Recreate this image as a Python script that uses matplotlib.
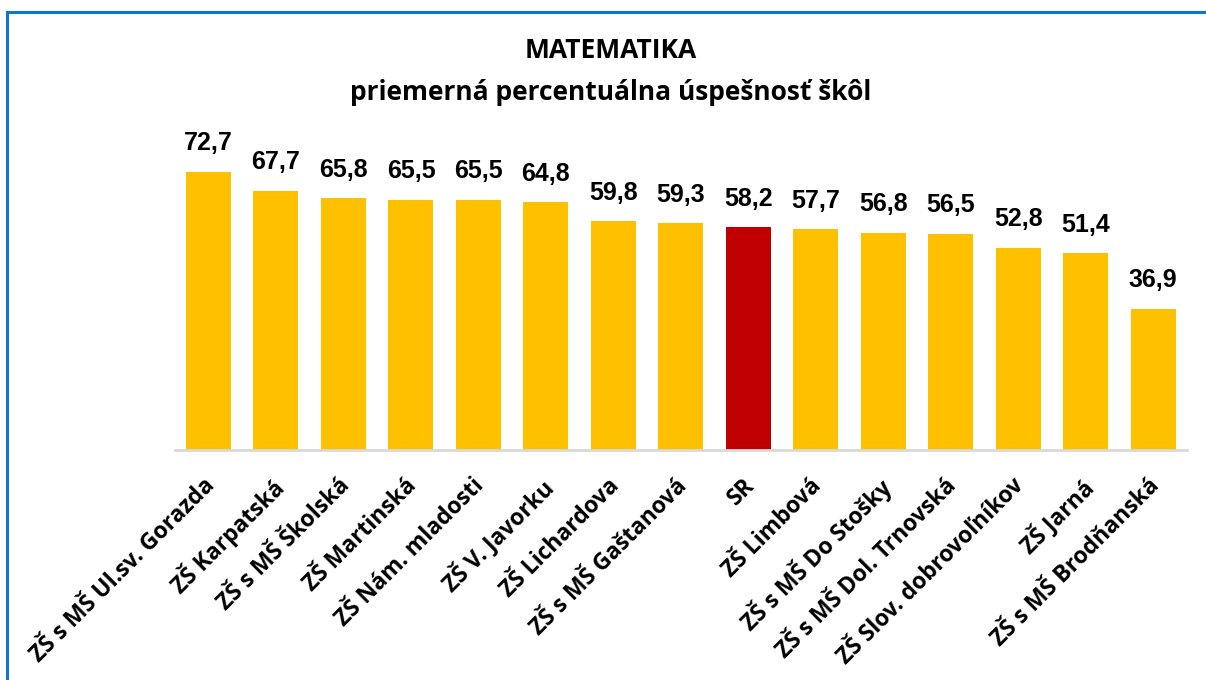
import matplotlib
matplotlib.use("Agg")
import matplotlib.pyplot as plt
from matplotlib.patches import Rectangle
import matplotlib.transforms as mtransforms

categories = ["ZŠ s MŠ Ul.sv. Gorazda", "ZŠ Karpatská", "ZŠ s MŠ Školská", "ZŠ Martinská",
              "ZŠ Nám. mladosti", "ZŠ V. Javorku", "ZŠ Lichardova", "ZŠ s MŠ Gaštanová",
              "SR", "ZŠ Limbová", "ZŠ s MŠ Do Stošky", "ZŠ s MŠ Dol. Trnovská",
              "ZŠ Slov. dobrovoľníkov", "ZŠ Jarná", "ZŠ s MŠ Brodňanská"]
values = [72.7, 67.7, 65.8, 65.5, 65.5, 64.8, 59.8, 59.3, 58.2, 57.7, 56.8, 56.5, 52.8, 51.4, 36.9]
highlight = "SR"

title_line1 = "MATEMATIKA"
title_line2 = "priemerná percentuálna úspešnosť škôl"

W, H = 1206, 680
fig = plt.figure(figsize=(W / 100, H / 100), dpi=100)
fig.patch.set_facecolor("white")

# border (extends beyond right/bottom edges)
fig.patches.append(Rectangle((7 / W, -0.05), 1.2, (H - 12) / H + 0.05, transform=fig.transFigure,
                             fill=False, edgecolor="#0A78D0", linewidth=2.2, zorder=0))

ax = fig.add_axes([174.75 / W, (H - 450) / H, (1187 - 174.75) / W, 320 / H])
x = list(range(len(categories)))
colors = ["#C00000" if c == highlight else "#FFC000" for c in categories]
ax.bar(x, values, width=0.667, color=colors, edgecolor="none", zorder=2)
ax.set_xlim(-0.5, len(categories) - 0.5)
ax.set_ylim(0, 320 / 3.824)

for s in ["top", "right", "left"]:
    ax.spines[s].set_visible(False)
ax.spines["bottom"].set_color("#D9D9D9")
ax.spines["bottom"].set_linewidth(2)
ax.set_yticks([])
ax.tick_params(axis="x", length=0, pad=0)
ax.set_xticks(x)
ax.set_xticklabels([])

val_font = dict(family=["Liberation Sans", "DejaVu Sans"], fontweight="bold", fontsize=18)
for xi, v in zip(x, values):
    ax.annotate(f"{v:.1f}".replace(".", ","), (xi, v), xytext=(0, 12), textcoords="offset points",
                ha="center", va="bottom", color="black", **val_font)

lab_font = dict(family=["Open Sans", "DejaVu Sans"], fontweight="bold", fontsize=16.5)
offset = mtransforms.ScaledTranslation(-6 / 100, -24 / 100, fig.dpi_scale_trans)
for xi, c in zip(x, categories):
    ax.text(xi, 0, c, rotation=45, rotation_mode="anchor", ha="right", va="top",
            transform=ax.get_xaxis_transform() + offset, **lab_font)

fig.text(611 / W, 1 - 51 / H, title_line1, ha="center", va="center",
         family=["Open Sans", "DejaVu Sans"], fontweight="bold", fontsize=19)
fig.text(611 / W, 1 - 93 / H, title_line2, ha="center", va="center",
         family=["Open Sans", "DejaVu Sans"], fontweight="bold", fontsize=19)

fig.savefig("out.png", dpi=100, facecolor="white")
